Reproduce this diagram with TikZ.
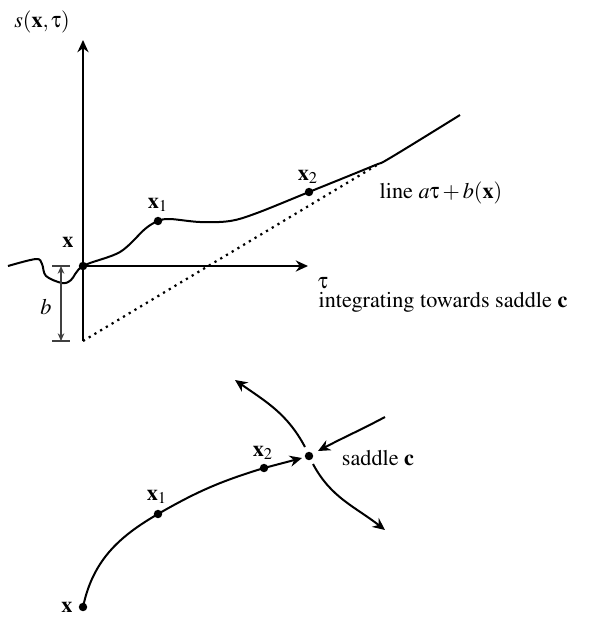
\documentclass[tikz,border=0pt]{standalone}
\usepackage[T1]{fontenc}
\usepackage{mathptmx}
\usepackage[Symbol]{upgreek}
\usetikzlibrary{arrows.meta}

\begin{document}
\begin{tikzpicture}[
  x=0.45pt, y=-0.45pt,
  font=\normalsize,
  dot/.style={circle, fill, inner sep=0pt, minimum size=3.8pt},
  crv/.style={line width=0.9pt},
  arr/.style={-{Stealth[length=5.5pt, width=5pt, inset=1.8pt]}, line width=0.9pt},
  dimarr/.style={{Stealth[length=3.5pt, width=3pt]}-{Stealth[length=3.5pt, width=3pt]},
                 gray!50!black, line width=0.5pt},
  tick/.style={gray!50!black, line width=0.5pt},
  lbl/.style={inner sep=1pt}]
  \useasboundingbox (0,0) rectangle (589,619);

  % upper plot: s along the path
  \node[dot] (o)  at (83,266)  {};
  \node[dot] (xa) at (158,221) {};
  \node[dot] (xb) at (309,192) {};
  \coordinate (ytop) at (83,40);
  \coordinate (ybot) at (83,341);
  \coordinate (tend) at (308,266);
  \coordinate (meet) at (377,165);
  \draw[arr] (ybot) -- (ytop);
  \draw[arr] (o.center) -- (tend);
  \draw[crv] plot[smooth, tension=0.55] coordinates {(8,266) (36,259) (42,264) (46,276)
    (62,283) (71,280) (o) (120,252) (145,229) (xa) (170,219) (200,222)
    (230,221) (257,213) (xb) (373,166) (390,158) (460,115)};
  \draw[line width=1pt, dotted] (ybot) -- (meet);

  \node[lbl] (slbl) at (42,22)   {$s(\mathbf{x},\uptau)$};
  \node[lbl] (tlbl) at (323,283) {$\uptau$};
  \node[lbl] (olbl) at (68,242)  {$\mathbf{x}$};
  \node[lbl] (albl) at (158,205) {$\mathbf{x}_1$};
  \node[lbl] (blbl) at (308,177) {$\mathbf{x}_2$};
  \node[lbl] (line) at (441,193) {line $a\uptau+b(\mathbf{x})$};
  \node[lbl] (intg) at (443,302) {integrating towards saddle $\mathbf{c}$};

  % offset b
  \coordinate (bt) at (61,266);
  \coordinate (bb) at (61,341);
  \draw[tick] (52,266) -- (70,266);
  \draw[tick] (52,341) -- (70,341);
  \draw[dimarr] (bt) -- (bb);
  \node[lbl] (blab) at (46,307) {$b$};

  % lower plot: path to the saddle
  \node[dot] (pa)  at (83,607)  {};
  \node[dot] (pb)  at (158,514) {};
  \node[dot] (pc)  at (264,468) {};
  \node[dot] (sad) at (309,456) {};
  \coordinate (ptip) at (302,458);
  \draw[crv] (pa.center) to[out=78, in=-150] (pb.center) to[out=30, in=-163] (pc.center);
  \draw[arr] (pc.center) -- (ptip);

  \coordinate (ua) at (305,447);
  \coordinate (ut) at (235,380);
  \coordinate (la) at (313,464);
  \coordinate (lt) at (385,530);
  \coordinate (ia) at (385,417);
  \coordinate (it) at (318,451);
  \draw[arr] (ua) to[out=118, in=-35] (ut);
  \draw[arr] (la) to[out=-62, in=142] (lt);
  \draw[arr] (ia) to[out=208, in=28] (it);

  \node[lbl] (palb) at (67,607) {$\mathbf{x}$};
  \node[lbl] (pblb) at (157,497) {$\mathbf{x}_1$};
  \node[lbl] (pclb) at (263,453) {$\mathbf{x}_2$};
  \node[lbl] (sadl) at (378,458) {saddle $\mathbf{c}$};
\end{tikzpicture}
\end{document}
